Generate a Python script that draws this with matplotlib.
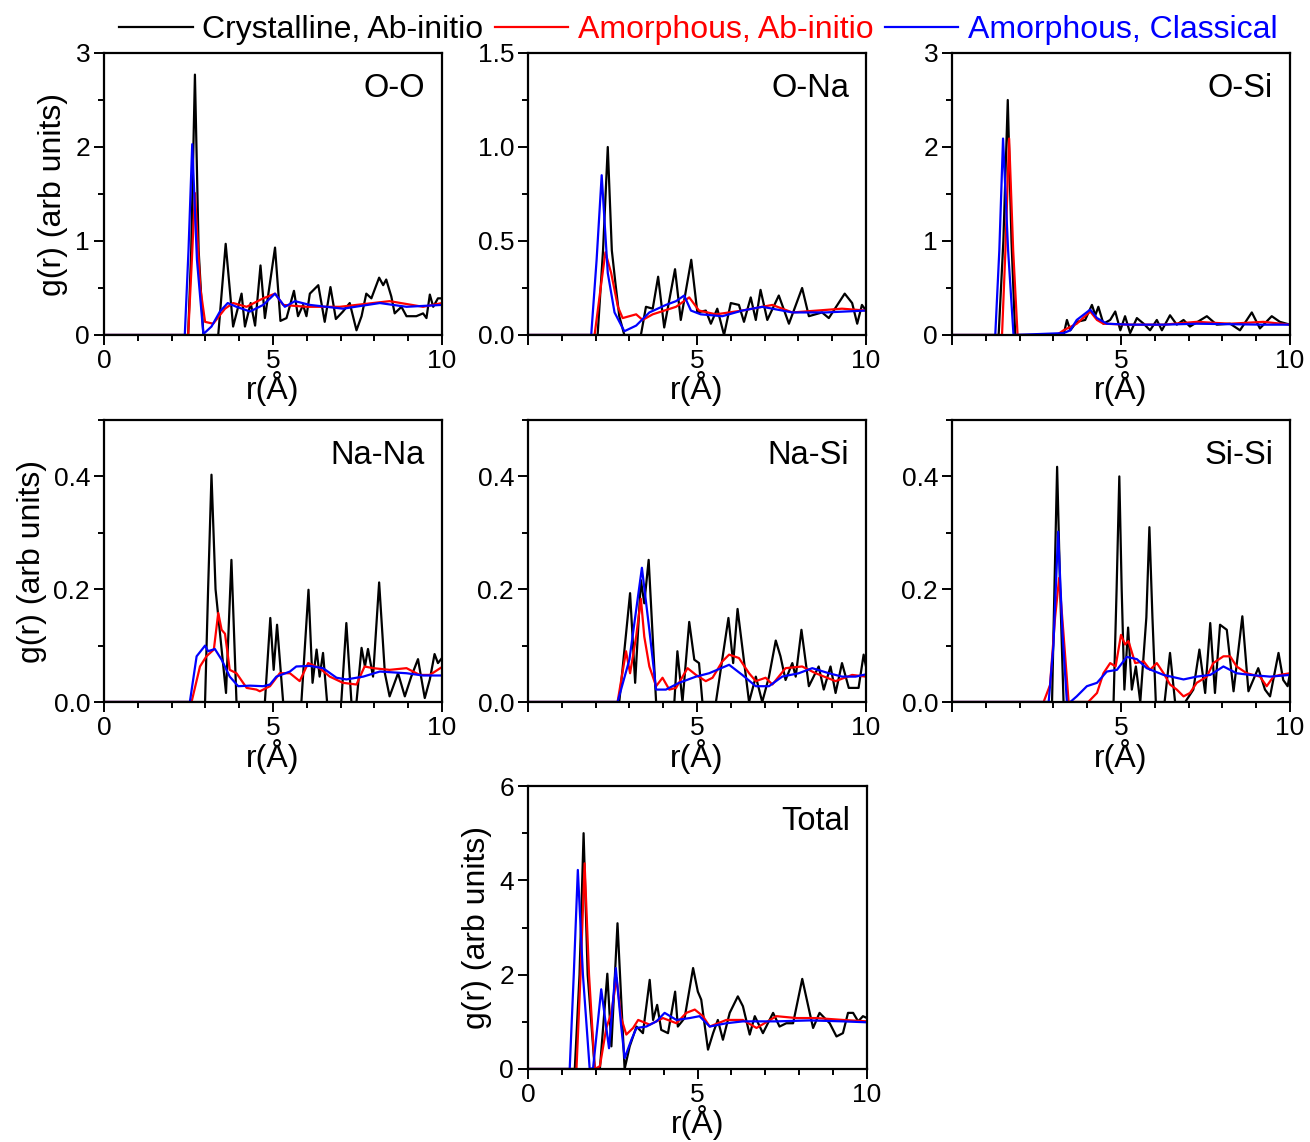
import numpy as np
import matplotlib
matplotlib.use('Agg')
import matplotlib.pyplot as plt
from matplotlib.ticker import MultipleLocator, FixedLocator

plt.rcParams['font.family'] = ['Liberation Sans', 'DejaVu Sans']

# ---- O-O ----
oo_r_cry = [0, 2.49, 2.58, 2.69, 2.8, 2.94, 3.38, 3.6, 3.82, 4.07, 4.17, 4.34, 4.47, 4.63, 4.76, 5.06, 5.22, 5.4,
            5.62, 5.74, 5.89, 5.99, 6.09, 6.34, 6.53, 6.7, 6.86, 7.07, 7.27, 7.47, 7.62, 7.76, 7.91, 8.14, 8.26,
            8.35, 8.5, 8.6, 8.8, 8.95, 9.24, 9.44, 9.54, 9.64, 9.74, 9.88, 10]
oo_g_cry = [0, 0, 0.9, 2.77, 0.9, 0, 0, 0.97, 0.09, 0.44, 0.09, 0.34, 0.1, 0.74, 0.18, 0.93, 0.15, 0.18,
            0.47, 0.2, 0.32, 0.2, 0.44, 0.53, 0.14, 0.51, 0.17, 0.25, 0.34, 0.05, 0.2, 0.44, 0.39, 0.61, 0.53,
            0.59, 0.41, 0.23, 0.3, 0.2, 0.2, 0.23, 0.18, 0.43, 0.3, 0.39, 0.39]
oo_r_am = [0, 2.49, 2.6, 2.69, 2.85, 2.99, 3.23, 3.58, 3.82, 4.22, 4.71, 5.06, 5.3, 5.99, 6.98, 7.47, 8.45, 9.44, 10]
oo_g_am = [0, 0, 0.8, 1.51, 0.5, 0.14, 0.12, 0.28, 0.34, 0.3, 0.39, 0.44, 0.32, 0.3, 0.3, 0.32, 0.36, 0.3, 0.34]
oo_r_cl = [0, 2.39, 2.5, 2.61, 2.75, 2.94, 3.18, 3.43, 3.66, 3.92, 4.32, 4.71, 5.06, 5.35, 5.65, 6.09, 7.07,
           8.16, 8.95, 10]
oo_g_cl = [0, 0, 0.9, 2.03, 0.8, 0.01, 0.09, 0.25, 0.34, 0.3, 0.25, 0.32, 0.44, 0.3, 0.36, 0.32, 0.28,
           0.34, 0.3, 0.32]

# ---- O-Na ----
ona_r_cry = [0, 2.06, 2.22, 2.36, 2.48, 2.59, 2.7, 2.85, 3.34, 3.49, 3.69, 3.85, 4.03, 4.35, 4.52, 4.83, 5.01,
             5.26, 5.41, 5.6, 5.8, 6.0, 6.24, 6.39, 6.59, 6.74, 6.88, 7.08, 7.42, 7.72, 8.11, 8.31, 8.7, 8.9,
             9.37, 9.59, 9.74, 9.88, 10]
ona_g_cry = [0, 0, 0.45, 1.0, 0.45, 0.27, 0.1, 0, 0, 0.15, 0.14, 0.31, 0.04, 0.35, 0.08, 0.4, 0.12,
             0.13, 0.06, 0.14, 0, 0.17, 0.16, 0.07, 0.2, 0.08, 0.24, 0.08, 0.21, 0.06, 0.25, 0.1, 0.12, 0.09,
             0.22, 0.17, 0.06, 0.16, 0.13]
ona_r_am = [0, 1.97, 2.15, 2.29, 2.46, 2.66, 2.8, 3.2, 3.39, 3.69, 4.38, 4.77, 5.06, 5.56, 6.34, 7.23, 7.82,
            9.29, 10]
ona_g_am = [0, 0, 0.25, 0.44, 0.33, 0.15, 0.09, 0.11, 0.08, 0.11, 0.15, 0.2, 0.13, 0.11, 0.13, 0.16, 0.12,
            0.14, 0.13]
ona_r_cl = [0, 1.87, 2.03, 2.18, 2.36, 2.56, 2.85, 3.2, 3.59, 4.08, 4.38, 4.62, 4.82, 5.11, 5.75, 6.34, 6.93,
            7.82, 8.8, 10]
ona_g_cl = [0, 0, 0.4, 0.85, 0.33, 0.12, 0.02, 0.05, 0.12, 0.16, 0.18, 0.21, 0.13, 0.11, 0.1, 0.13, 0.15,
            0.12, 0.12, 0.13]

# ---- O-Si ----
osi_r_cry = [0, 1.38, 1.52, 1.65, 1.76, 1.87, 3.3, 3.4, 3.5, 3.69, 3.94, 4.14, 4.24, 4.33, 4.48, 4.68, 4.83,
             4.98, 5.12, 5.27, 5.47, 5.67, 5.86, 6.06, 6.21, 6.45, 6.65, 6.85, 7.04, 7.54, 7.83, 8.23, 8.52,
             8.87, 9.11, 9.46, 9.7, 10]
osi_g_cry = [0, 0, 1.0, 2.5, 1.0, 0, 0, 0.16, 0.05, 0.14, 0.16, 0.32, 0.21, 0.3, 0.12, 0.16, 0.25,
             0.05, 0.2, 0.02, 0.18, 0.12, 0.05, 0.16, 0.05, 0.21, 0.11, 0.16, 0.09, 0.2, 0.11, 0.12, 0.05,
             0.24, 0.07, 0.2, 0.14, 0.11]
osi_r_am = [0, 1.48, 1.58, 1.69, 1.81, 1.94, 3.1, 3.3, 3.69, 4.09, 4.29, 4.48, 5.27, 6.26, 7.24, 8.23, 9.21, 10]
osi_g_am = [0, 0, 0.9, 2.09, 0.9, 0, 0, 0.05, 0.12, 0.25, 0.16, 0.12, 0.11, 0.11, 0.14, 0.12, 0.14, 0.11]
osi_r_cl = [0, 1.28, 1.4, 1.51, 1.66, 1.82, 3.3, 3.5, 3.69, 4.09, 4.29, 4.58, 5.27, 6.26, 7.24, 9.21, 10]
osi_g_cl = [0, 0, 0.9, 2.09, 0.9, 0, 0.02, 0.05, 0.16, 0.27, 0.18, 0.12, 0.11, 0.11, 0.12, 0.11, 0.11]

# ---- Na-Na ----
nana_r_cry = [0, 2.99, 3.08, 3.18, 3.3, 3.61, 3.77, 3.92, 4.76, 4.92, 5.02, 5.12, 5.3, 5.84, 6.05, 6.17,
              6.29, 6.38, 6.48, 6.6, 7.02, 7.17, 7.32, 7.47, 7.62, 7.72, 7.81, 7.96, 8.14, 8.31, 8.45, 8.7,
              8.9, 9.09, 9.29, 9.49, 9.64, 9.78, 9.88, 10]
nana_g_cry = [0, 0, 0.2, 0.403, 0.2, 0.016, 0.252, 0, 0, 0.149, 0.057, 0.137, 0, 0, 0.199, 0.034,
              0.093, 0.045, 0.087, 0, 0, 0.14, 0, 0, 0.096, 0.063, 0.094, 0.045, 0.212, 0.051, 0.01, 0.051,
              0.01, 0.045, 0.076, 0.007, 0.04, 0.085, 0.069, 0.078]
nana_r_am = [0, 2.59, 2.84, 3.03, 3.25, 3.38, 3.48, 3.58, 3.72, 3.92, 4.22, 4.51, 4.61, 4.91, 5.2, 5.5,
             5.79, 6.04, 6.38, 6.68, 7.07, 7.47, 7.71, 7.96, 8.45, 8.95, 9.34, 9.64, 10]
nana_g_am = [0, 0, 0.063, 0.081, 0.093, 0.158, 0.128, 0.121, 0.057, 0.051, 0.025, 0.022, 0.019, 0.028,
             0.051, 0.051, 0.037, 0.069, 0.06, 0.045, 0.034, 0.031, 0.063, 0.06, 0.057, 0.06, 0.048, 0.048,
             0.062]
nana_r_cl = [0, 2.54, 2.74, 2.99, 3.08, 3.28, 3.48, 3.72, 3.97, 4.32, 4.71, 4.91, 5.1, 5.5, 5.69, 6.09,
             6.48, 6.88, 7.17, 7.67, 8.16, 8.95, 9.44, 10]
nana_g_cl = [0, 0, 0.081, 0.1, 0.09, 0.094, 0.075, 0.045, 0.028, 0.029, 0.028, 0.031, 0.045, 0.054, 0.063,
             0.064, 0.06, 0.043, 0.04, 0.045, 0.054, 0.051, 0.047, 0.047]

# ---- Na-Si ----
nasi_r_cry = [0, 2.7, 3.02, 3.17, 3.34, 3.44, 3.57, 3.79, 4.33, 4.42, 4.57, 4.77, 4.92, 5.06, 5.16, 5.56,
              5.93, 6.07, 6.2, 6.54, 6.74, 6.93, 7.13, 7.33, 7.47, 7.62, 7.82, 7.92, 8.09, 8.31, 8.6, 8.75,
              8.95, 9.1, 9.29, 9.49, 9.78, 9.93, 10]
nasi_g_cry = [0, 0, 0.193, 0.034, 0.216, 0.175, 0.252, 0, 0, 0.09, 0, 0.142, 0.075, 0.069, 0, 0,
              0.149, 0.069, 0.165, 0, 0.045, 0, 0.045, 0.109, 0.081, 0.039, 0.069, 0.045, 0.128, 0.028, 0.063,
              0.022, 0.063, 0.016, 0.069, 0.025, 0.025, 0.084, 0.063]
nasi_r_am = [0, 2.65, 2.9, 3.02, 3.2, 3.34, 3.44, 3.59, 3.79, 3.98, 4.18, 4.38, 4.72, 4.97, 5.26, 5.46,
             5.75, 5.95, 6.24, 6.54, 6.74, 7.03, 7.23, 7.62, 8.11, 8.51, 9.1, 9.59, 10]
nasi_g_am = [0, 0, 0.09, 0.051, 0.116, 0.183, 0.116, 0.063, 0.028, 0.043, 0.022, 0.025, 0.06, 0.048,
             0.037, 0.043, 0.072, 0.084, 0.078, 0.051, 0.037, 0.043, 0.031, 0.06, 0.063, 0.051, 0.037, 0.048,
             0.045]
nasi_r_cl = [0, 2.65, 3.0, 3.37, 3.59, 3.79, 4.08, 4.47, 4.97, 5.36, 5.95, 6.34, 6.74, 7.13, 7.52, 8.01,
             8.41, 8.9, 9.29, 9.69, 10]
nasi_g_cl = [0, 0, 0.075, 0.238, 0.128, 0.022, 0.022, 0.034, 0.045, 0.051, 0.066, 0.048, 0.028, 0.028,
             0.045, 0.051, 0.06, 0.051, 0.045, 0.045, 0.049]

# ---- Si-Si ----
sisi_r_cry = [0, 2.96, 3.03, 3.11, 3.2, 3.3, 4.78, 4.87, 4.95, 5.02, 5.1, 5.21, 5.32, 5.44, 5.57, 5.75,
              5.84, 5.93, 6.03, 6.29, 6.45, 6.6, 6.9, 7.14, 7.32, 7.49, 7.64, 7.78, 7.93, 8.13, 8.33, 8.59,
              8.77, 9.06, 9.26, 9.41, 9.66, 9.8, 9.93, 10]
sisi_g_cry = [0, 0, 0.2, 0.417, 0.2, 0, 0, 0.2, 0.4, 0.2, 0.022, 0.132, 0.022, 0.063, 0, 0.15,
              0.31, 0.15, 0, 0, 0.087, 0, 0, 0.022, 0.093, 0.016, 0.14, 0.016, 0.137, 0.128, 0.019, 0.152,
              0.019, 0.06, 0.022, 0.01, 0.087, 0.039, 0.028, 0.051]
sisi_r_am = [0, 2.71, 2.9, 3.05, 3.17, 3.3, 3.45, 4.03, 4.29, 4.48, 4.68, 4.84, 5.0, 5.12, 5.22, 5.42,
             5.67, 5.86, 6.06, 6.26, 6.45, 6.65, 6.85, 7.04, 7.24, 7.54, 7.73, 8.03, 8.23, 8.42, 8.72, 9.11,
             9.31, 9.51, 9.7, 10]
sisi_g_am = [0, 0, 0.03, 0.15, 0.22, 0.12, 0, 0, 0.016, 0.051, 0.069, 0.063, 0.119, 0.102, 0.108, 0.069,
             0.072, 0.057, 0.069, 0.051, 0.031, 0.022, 0.01, 0.016, 0.034, 0.045, 0.069, 0.081, 0.081, 0.063,
             0.051, 0.045, 0.028, 0.045, 0.048, 0.051]
sisi_r_cl = [0, 2.86, 3.0, 3.14, 3.27, 3.4, 3.5, 3.69, 3.99, 4.29, 4.58, 4.88, 5.17, 5.47, 5.76, 6.26,
             6.85, 7.24, 7.64, 8.03, 8.42, 8.82, 9.41, 10]
sisi_g_cl = [0, 0, 0.1, 0.302, 0.12, 0, 0, 0.01, 0.028, 0.034, 0.054, 0.057, 0.08, 0.076, 0.06, 0.048,
             0.04, 0.045, 0.048, 0.063, 0.051, 0.048, 0.045, 0.048]

# ---- Total ----
tot_r_cry = [0, 1.38, 1.52, 1.64, 1.76, 1.97, 2.12, 2.34, 2.46, 2.64, 2.85, 3.0, 3.2, 3.39, 3.59, 3.69,
             3.81, 3.93, 4.13, 4.34, 4.42, 4.62, 4.87, 5.01, 5.11, 5.31, 5.46, 5.6, 5.75, 5.95, 6.19, 6.34,
             6.54, 6.69, 6.93, 7.23, 7.42, 7.62, 7.82, 8.09, 8.31, 8.41, 8.6, 8.9, 9.1, 9.29, 9.44, 9.59,
             9.74, 9.88, 10]
tot_g_cry = [0, 0, 2.0, 5.0, 2.0, 0, 0, 2.02, 0.48, 3.09, 0, 0.48, 0.9, 0.76, 1.89, 1.04,
             1.36, 0.83, 0.76, 1.64, 0.9, 1.08, 2.14, 1.64, 1.47, 0.41, 0.76, 1.04, 0.62, 1.19, 1.54, 1.33,
             0.73, 1.12, 0.76, 1.19, 0.9, 0.97, 0.97, 1.91, 1.19, 0.87, 1.19, 0.97, 0.69, 0.76, 1.19, 1.19,
             1.01, 1.12, 1.08]
tot_r_am = [0, 1.43, 1.55, 1.67, 1.8, 1.97, 2.12, 2.31, 2.46, 2.61, 2.75, 2.9, 3.1, 3.25, 3.59, 3.98, 4.38,
            4.67, 4.92, 5.16, 5.36, 5.85, 6.34, 6.74, 7.33, 7.92, 8.51, 9.29, 10]
tot_g_am = [0, 0, 2.0, 4.36, 2.0, 0, 0.06, 0.87, 1.19, 1.93, 1.08, 0.73, 0.87, 1.04, 0.94, 1.08, 0.97,
            1.19, 1.26, 1.12, 0.9, 1.04, 1.04, 0.87, 1.12, 1.08, 1.08, 1.04, 1.01]
tot_r_cl = [0, 1.23, 1.35, 1.47, 1.62, 1.82, 1.92, 2.16, 2.39, 2.59, 2.75, 2.85, 3.05, 3.2, 3.49, 3.79,
            4.03, 4.38, 4.77, 5.06, 5.36, 5.85, 6.34, 7.33, 8.31, 9.29, 10]
tot_g_cl = [0, 0, 2.0, 4.22, 2.0, 0, 0.02, 1.69, 0.44, 2.14, 0.9, 0.23, 0.62, 0.87, 0.9, 1.01,
            1.19, 1.04, 1.08, 1.12, 0.9, 0.97, 1.01, 1.01, 1.03, 1.01, 0.99]

labels = ['Crystalline, Ab-initio', 'Amorphous, Ab-initio', 'Amorphous, Classical']
colors = ['black', 'red', 'blue']

panels = [
    ('O-O', [(oo_r_cry, oo_g_cry), (oo_r_am, oo_g_am), (oo_r_cl, oo_g_cl)], 3, 1, 0.5, '%d'),
    ('O-Na', [(ona_r_cry, ona_g_cry), (ona_r_am, ona_g_am), (ona_r_cl, ona_g_cl)], 1.5, 0.5, 0.25, '%.1f'),
    ('O-Si', [(osi_r_cry, osi_g_cry), (osi_r_am, osi_g_am), (osi_r_cl, osi_g_cl)], 3, 1, 0.5, '%d'),
    ('Na-Na', [(nana_r_cry, nana_g_cry), (nana_r_am, nana_g_am), (nana_r_cl, nana_g_cl)], 0.5, 0.2, 0.1, '%.1f'),
    ('Na-Si', [(nasi_r_cry, nasi_g_cry), (nasi_r_am, nasi_g_am), (nasi_r_cl, nasi_g_cl)], 0.5, 0.2, 0.1, '%.1f'),
    ('Si-Si', [(sisi_r_cry, sisi_g_cry), (sisi_r_am, sisi_g_am), (sisi_r_cl, sisi_g_cl)], 0.5, 0.2, 0.1, '%.1f'),
    ('Total', [(tot_r_cry, tot_g_cry), (tot_r_am, tot_g_am), (tot_r_cl, tot_g_cl)], 6, 2, 1, '%d'),
]

# axes boxes in figure fraction (left, bottom, width, height)
W, H = 1310., 1142.
lefts = [104, 528, 952]
boxes = []
for top, bot in [(53, 335), (420, 702)]:
    for l in lefts:
        boxes.append((l / W, 1 - bot / H, 338 / W, (bot - top) / H))
boxes.append((528 / W, 1 - 1069 / H, 339 / W, 283 / H))
show_zero = [True, False, False, True, False, False, True]
show_ylabel = [True, False, False, True, False, False, True]

F = plt.figure(figsize=(13.1, 11.42), dpi=100)
handles = []
for i, (name, series, ymax, ymaj, ymin, fmt) in enumerate(panels):
    ax = F.add_axes(boxes[i])
    for (r, g), c in zip(series, colors):
        h, = ax.plot(r, g, color=c, lw=1.6)
        if i == 0:
            handles.append(h)
    ax.set_xlim(0, 10)
    ax.set_ylim(0, ymax)
    ax.xaxis.set_major_locator(FixedLocator([0, 5, 10]))
    ax.xaxis.set_minor_locator(MultipleLocator(1))
    ax.set_xticklabels(['0' if show_zero[i] else '', '5', '10'])
    ax.yaxis.set_major_locator(MultipleLocator(ymaj))
    ax.yaxis.set_minor_locator(MultipleLocator(ymin))
    ax.yaxis.set_major_formatter(matplotlib.ticker.FormatStrFormatter(fmt))
    ax.tick_params(which='major', direction='out', length=7, width=1.4, labelsize=19, pad=3)
    ax.tick_params(which='minor', direction='out', length=4, width=1.4)
    for s in ax.spines.values():
        s.set_linewidth(1.6)
    ax.set_xlabel('r(Å)', fontsize=23, labelpad=-1)
    if show_ylabel[i]:
        ax.set_ylabel('g(r) (arb units)', fontsize=23, labelpad=5)
    ax.text(0.95, 0.93, name, transform=ax.transAxes, ha='right', va='top', fontsize=23.5)

F.legend(handles, labels, loc='upper center', bbox_to_anchor=(0.533, 1.012), ncol=3, frameon=False,
         fontsize=23, handlelength=2.3, handletextpad=0.3, columnspacing=0.35, labelcolor=colors)

F.savefig('out.png', dpi=100)
